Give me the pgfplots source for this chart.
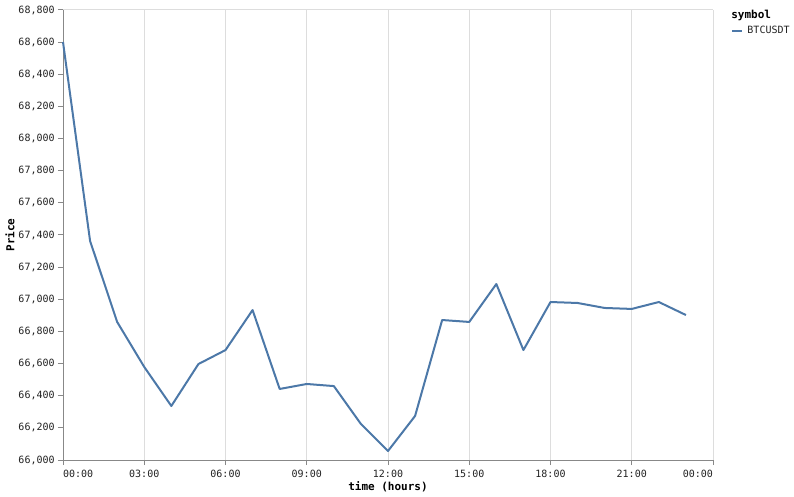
\documentclass[border=0pt]{standalone}
\usepackage{fontspec}
\setmainfont{DejaVu Sans Mono}
\usepackage{pgfplots}
\pgfplotsset{compat=1.18}
\definecolor{line}{HTML}{4C78A8}
\definecolor{gridc}{HTML}{DDDDDD}
\definecolor{axisc}{HTML}{888888}
\definecolor{txt}{HTML}{222222}
\begin{document}
\begin{tikzpicture}
\useasboundingbox (0pt,0pt) rectangle (595.5pt,372.75pt);
\begin{axis}[
  at={(47.25pt,27.75pt)}, anchor=south west,
  scale only axis, width=487.5pt, height=337.5pt,
  xmin=0, xmax=24, ymin=66000, ymax=68800,
  axis lines*=left,
  axis line style={axisc, line width=0.75pt},
  xtick={0,3,...,24},
  xticklabels={\makebox[0pt][l]{00:00},03:00,06:00,09:00,12:00,15:00,18:00,21:00,\makebox[0pt][r]{00:00}},
  ytick={66000,66200,...,68800},
  scaled y ticks=false,
  /pgf/number format/assume math mode=true,
  /pgf/number format/1000 sep={,},
  /pgf/number format/fixed,
  tick align=outside, major tick length=3.75pt,
  tick style={axisc, line width=0.75pt},
  xmajorgrids, grid style={gridc, line width=0.75pt},
  ticklabel style={font=\fontsize{7.5}{9}\selectfont, text=txt},
  xticklabel style={anchor=north, yshift=-0.5pt},
  yticklabel style={anchor=east, xshift=1pt},
  clip=false,
  legend style={draw=none, fill=none, at={(1.028,0.953)}, anchor=west, inner sep=0pt,
    font=\fontsize{7.5}{9}\selectfont, text=txt},
  legend cell align=left,
  legend image code/.code={\draw[#1] (0pt,0pt) -- (7pt,0pt); \path (8.5pt,0pt);},
]
\draw[gridc, line width=0.75pt] (rel axis cs:0,1) -- (rel axis cs:1,1);
\addplot[line, line width=1.5pt, line join=round] coordinates {
(0,68601) (1,67363) (2,66859) (3,66579) (4,66336) (5,66597) (6,66684) (7,66933)
(8,66442) (9,66473) (10,66460) (11,66224) (12,66056) (13,66274) (14,66871) (15,66859)
(16,67095) (17,66684) (18,66983) (19,66977) (20,66946) (21,66940) (22,66983) (23,66902)
};
\addlegendentry{BTCUSDT}
\end{axis}
\node[rotate=90, font=\bfseries\fontsize{8.25}{10}\selectfont, text=black] at (7.5pt,196.5pt) {Price};
\node[font=\bfseries\fontsize{8.25}{10}\selectfont, text=black] at (291pt,7.5pt) {time (hours)};
\node[anchor=west, font=\bfseries\fontsize{8.25}{10}\selectfont, text=black, inner sep=0pt] at (548.25pt,361.5pt) {symbol};
\end{tikzpicture}
\end{document}
